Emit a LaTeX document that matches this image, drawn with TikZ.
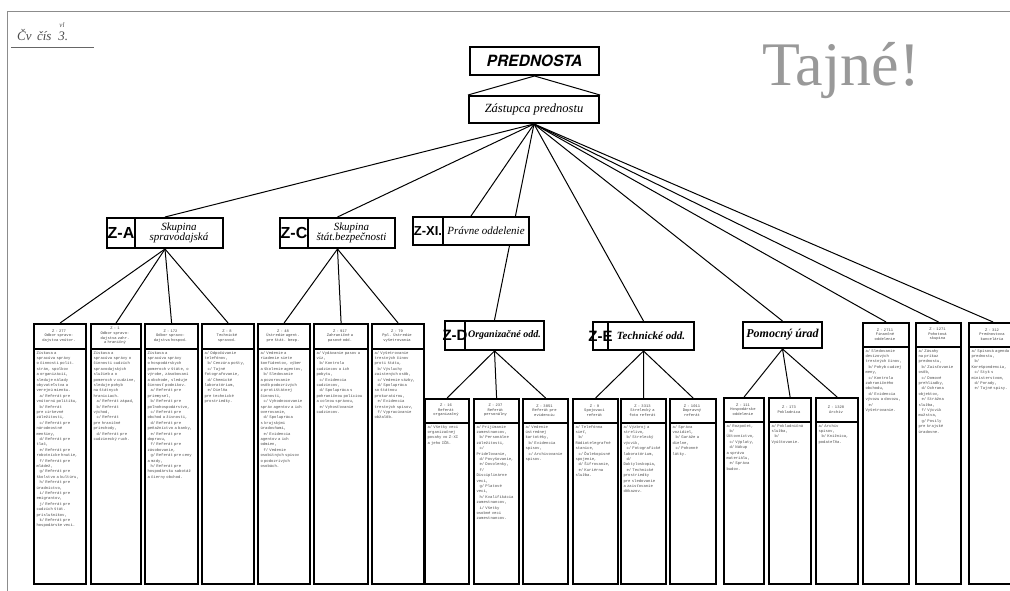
\documentclass[tikz,border=0pt]{standalone}
\usepackage{fontspec}
\setmainfont{Liberation Serif}
\setmonofont{Liberation Mono}
\newfontfamily\herosf{TeX Gyre Heros}
\newfontfamily\lsansf{Liberation Sans}
\usetikzlibrary{backgrounds}
\newcommand\ipar{\par\hspace*{3pt}}
\newcommand\colbox[7]{%
  \pgfmathsetmacro\cbw{#3-#2}%
  \pgfmathsetmacro\cbh{583-#4}%
  \pgfmathsetmacro\cbtw{#3-#2-7}%
  \pgfmathsetmacro\cbx{(#2+#3)/2}%
  \pgfmathsetmacro\cby{(#4+#5)/2}%
  \node[colfr, minimum width=\cbw pt, minimum height=\cbh pt] (#1) at (#2,#4) {};
  \draw[divl] (#2,#5) -- (#3,#5);
  \node[colhd, text width=\cbtw pt] at (\cbx,\cby) {#6};
  \node[colbd, text width=\cbtw pt] at (\cbx,#5+2) {#7};
}
\newcommand\grpbox[8]{%
  \node[grp, minimum width=#4pt, minimum height=#5pt] (#1) at (#2,#3) {};
  \pgfmathsetmacro\gbl{#2-#4/2}\pgfmathsetmacro\gbr{#2+#4/2}%
  \draw[gdiv] (#6,#3-#5/2) -- (#6,#3+#5/2);
  \node[glab] at ({(\gbl+#6)/2},#3) {#7};
  \node[gtxt] at ({(#6+\gbr)/2},#3) {#8};
}
\begin{document}
\begin{tikzpicture}[x=1pt,y=-1pt,
  grp/.style={draw, line width=2pt, fill=white, inner sep=0pt},
  gdiv/.style={line width=1.2pt},
  glab/.style={font=\lsansf\bfseries\fontsize{16}{16}\selectfont, inner sep=0pt},
  gtxt/.style={font=\itshape\fontsize{11}{10}\selectfont, inner sep=0pt, align=center},
  colfr/.style={draw, line width=2.2pt, fill=white, inner sep=0pt, anchor=north west},
  divl/.style={line width=1.1pt},
  colhd/.style={font=\ttfamily\fontsize{3.8}{4.6}\selectfont, text=black!75, align=center, inner sep=0pt},
  colbd/.style={font=\ttfamily\fontsize{3.9}{5.4}\selectfont, text=black!70, align=left, anchor=north, inner sep=0pt},
  link/.style={line width=1pt},
  frameline/.style={line width=0.8pt, draw=black!45}]
\useasboundingbox (0,0) rectangle (1010,591);
\draw[frameline] (7,591) -- (7,11) -- (1010,11);

% handwritten note
\node[anchor=base west, font=\itshape\fontsize{13}{13}\selectfont, text=black!70, inner sep=0pt] (note) at (17,41) {Čv \,čís \;3.};
\node[font=\itshape\fontsize{7}{7}\selectfont, text=black!70, inner sep=0pt] (notesup) at (62,25) {vl};
\draw[line width=1pt, black!60] (11,48) -- (94,48);

% stamp
\node[anchor=base west, font=\fontsize{62}{62}\selectfont, text=black!40, inner sep=0pt] (stamp) at (762,86) {Tajné!};

% top boxes
\node[grp, minimum width=129pt, minimum height=28pt, font=\herosf\bfseries\itshape\fontsize{15.5}{15.5}\selectfont] (pred) at (534.5,61) {PREDNOSTA};
\node[grp, minimum width=130pt, minimum height=27pt, font=\itshape\fontsize{12.5}{12.5}\selectfont] (zast) at (534,109.5) {Zástupca prednostu};

% group boxes
\grpbox{za}{165}{233}{116}{30}{135}{Z-A}{Skupina\\spravodajská}
\grpbox{zc}{337.5}{233}{115}{30}{308}{Z-C}{Skupina\\štát.bezpečnosti}
\grpbox{zxi}{471}{231}{116}{28}{443}{\fontsize{13}{13}\selectfont Z-XI.}{Právne oddelenie}
\grpbox{zd}{494.5}{335.5}{99}{29}{465}{\fontsize{15}{15}\selectfont Z-D}{\bfseries\fontsize{10}{10}\selectfont Organizačné odd.}
\grpbox{ze}{643.5}{336}{101}{28}{608}{\fontsize{15}{15}\selectfont Z-E}{\bfseries\fontsize{11}{11}\selectfont Technické odd.}
\node[grp, minimum width=79pt, minimum height=26pt, font=\bfseries\itshape\fontsize{12}{12}\selectfont] (pom) at (782.5,335) {Pomocný úrad};

% columns under Z-A
\colbox{a1}{33}{85}{323}{349}{Z - 277\\Odbor spravo-\\dajstva vnútor.}{Získava a spracúva správy o činnosti polit. strán, spolkov a organizácií, sleduje nálady obyvateľstva a verejnú mienku.\ipar a/ Referát pre vnútornú politiku,\ipar b/ Referát pre cirkevné záležitosti,\ipar c/ Referát pre národnostné menšiny,\ipar d/ Referát pre tlač,\ipar e/ Referát pre robotnícke hnutie,\ipar f/ Referát pre mládež,\ipar g/ Referát pre školstvo a kultúru,\ipar h/ Referát pre úradníctvo,\ipar i/ Referát pre emigrantov,\ipar j/ Referát pre cudzích štát. príslušníkov,\ipar k/ Referát pre hospodárske veci.}
\colbox{a2}{90}{140}{323}{349}{Z - 1\\Odbor spravo-\\dajstva zahr.\\a hraničný}{Získava a spracúva správy o činnosti cudzích spravodajských služieb a o pomeroch v cudzine, sleduje pohyb na štátnych hraniciach.\ipar a/ Referát západ,\ipar b/ Referát východ,\ipar c/ Referát pre hraničné priechody,\ipar d/ Referát pre cudzinecký ruch.}
\colbox{a3}{144}{197}{323}{349}{Z - 172\\Odbor spravo-\\dajstva hospod.}{Získava a spracúva správy o hospodárskych pomeroch v štáte, o výrobe, zásobovaní a obchode, sleduje činnosť podnikov.\ipar a/ Referát pre priemysel,\ipar b/ Referát pre poľnohospodárstvo,\ipar c/ Referát pre obchod a živnosti,\ipar d/ Referát pre peňažníctvo a banky,\ipar e/ Referát pre dopravu,\ipar f/ Referát pre zásobovanie,\ipar g/ Referát pre ceny a mzdy,\ipar h/ Referát pre hospodársku sabotáž a čierny obchod.}
\colbox{a4}{201}{253}{323}{349}{Z - 8\\Technické\\spravod.}{a/ Odpočúvanie telefónov,\ipar b/ Cenzúra pošty,\ipar c/ Tajné fotografovanie,\ipar d/ Chemické laboratórium,\ipar e/ Dielňa pre technické prostriedky.}

% columns under Z-C
\colbox{c1}{257}{309}{323}{349}{Z - 48\\Ústredie agent.\\pre štát. bezp.}{a/ Vedenie a riadenie siete konfidentov, výber a školenie agentov,\ipar b/ Sledovanie a pozorovanie osôb podozrivých z protištátnej činnosti,\ipar c/ Vyhodnocovanie správ agentov a ich overovanie,\ipar d/ Spolupráca s krajskými úradovňami,\ipar e/ Evidencia agentov a ich odmien,\ipar f/ Vedenie osobitných spisov o podozrivých osobách.}
\colbox{c2}{313}{367}{323}{349}{Z - 917\\Zahraničné a\\pasové odd.}{a/ Vydávanie pasov a víz,\ipar b/ Kontrola cudzincov a ich pobytu,\ipar c/ Evidencia cudzincov,\ipar d/ Spolupráca s pohraničnou políciou a colnou správou,\ipar e/ Vyhosťovanie cudzincov.}
\colbox{c3}{371}{423}{323}{349}{Z - 79\\Ppl. Ústredie\\vyšetrovania}{a/ Vyšetrovanie trestných činov proti štátu,\ipar b/ Výsluchy zaistených osôb,\ipar c/ Vedenie väzby,\ipar d/ Spolupráca so štátnou prokuratúrou,\ipar e/ Evidencia trestných spisov,\ipar f/ Vypracúvanie obžalôb.}

% columns under Z-D
\colbox{d1}{424}{468}{398}{423}{Z - 16\\Referát\\organizačný}{a/ Všetky veci organizačnej povahy vo Z-XI a jeho IČB.}
\colbox{d2}{473}{518}{398}{423}{Z - 237\\Referát\\personálny}{a/ Prijímanie zamestnancov,\ipar b/ Personálne záležitosti,\ipar c/ Prideľovanie,\ipar d/ Povyšovanie,\ipar e/ Dovolenky,\ipar f/ Disciplinárne veci,\ipar g/ Platové veci,\ipar h/ Kvalifikácia zamestnancov,\ipar i/ Všetky osobné veci zamestnancov.}
\colbox{d3}{522}{567}{398}{423}{Z - 3851\\Referát pre\\evidenciu}{a/ Vedenie ústrednej kartotéky,\ipar b/ Evidencia spisov,\ipar c/ Archivovanie spisov.}

% columns under Z-E
\colbox{e1}{572}{617}{398}{423}{Z - 9\\Spojovací\\referát}{a/ Telefónna sieť,\ipar b/ Rádiotelegrafné stanice,\ipar c/ Ďalekopisné spojenie,\ipar d/ Šifrovanie,\ipar e/ Kuriérna služba.}
\colbox{e2}{620}{665}{398}{423}{Z - 3313\\Strelecký a\\foto referát}{a/ Výzbroj a strelivo,\ipar b/ Strelecký výcvik,\ipar c/ Fotografické laboratórium,\ipar d/ Daktyloskopia,\ipar e/ Technické prostriedky pre sledovanie a zaisťovanie dôkazov.}
\colbox{e3}{669}{715}{398}{423}{Z - 1011\\Dopravný\\referát}{a/ Správa vozidiel,\ipar b/ Garáže a dielne,\ipar c/ Pohonné látky.}

% columns under Pomocny urad
\colbox{p1}{723}{763}{397}{422}{Z - 111\\Hospodárske\\oddelenie}{a/ Rozpočet,\ipar b/ Účtovníctvo,\ipar c/ Výplaty,\ipar d/ Nákup a správa materiálu,\ipar e/ Správa budov.}
\colbox{p2}{768}{810}{397}{422}{Z - 173\\Pokladnica}{a/ Pokladničná služba,\ipar b/ Vyúčtovanie.}
\colbox{p3}{815}{857}{397}{422}{Z - 1328\\Archív}{a/ Archív spisov,\ipar b/ Knižnica, podateľňa.}

% right columns
\colbox{ra}{862}{908}{322}{347}{Z - 2711\\Finančné\\oddelenie}{a/ Sledovanie devízových trestných činov,\ipar b/ Pohyb cudzej meny,\ipar c/ Kontrola zahraničného obchodu,\ipar d/ Evidencia vývozu a dovozu,\ipar e/ Vyšetrovanie.}
\colbox{rb}{915}{960}{322}{347}{Z - 1271\\Pohotová\\skupina}{a/ Zásahy na príkaz prednostu,\ipar b/ Zaisťovanie osôb,\ipar c/ Domové prehliadky,\ipar d/ Ochrana objektov,\ipar e/ Strážna služba,\ipar f/ Výcvik mužstva,\ipar g/ Posily pre krajské úradovne.}
\colbox{rc}{968}{1016}{322}{347}{Z - 312\\Prednostova\\kancelária}{a/ Spisová agenda prednostu,\ipar b/ Korešpondencia,\ipar c/ Styk s ministerstvom,\ipar d/ Porady,\ipar e/ Tajné spisy.}

\begin{scope}[on background layer]
\fill[white] (0,0) rectangle (1010,591);
\draw[link] (pred.south) -- (zast.north west);
\draw[link] (pred.south) -- (zast.north east);
\foreach \t in {za,zc,zxi,zd,ze,pom,ra,rb,rc}
  \draw[link] (zast.south) -- (\t.north);
\foreach \t in {a1,a2,a3,a4} \draw[link] (za.south) -- (\t.north);
\foreach \t in {c1,c2,c3} \draw[link] (zc.south) -- (\t.north);
\foreach \t in {d1,d2,d3} \draw[link] (zd.south) -- (\t.north);
\foreach \t in {e1,e2,e3} \draw[link] (ze.south) -- (\t.north);
\foreach \t in {p1,p2,p3} \draw[link] (pom.south) -- (\t.north);
\end{scope}
\end{tikzpicture}
\end{document}
